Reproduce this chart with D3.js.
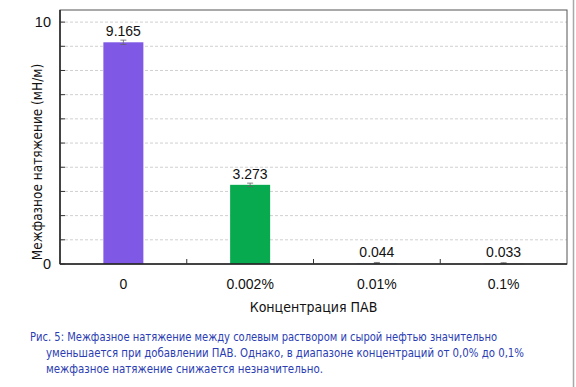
<!DOCTYPE html>
<html>
<head>
<meta charset="utf-8">
<style>
body { margin: 0; background: #fff; }
svg { display: block; font-family: "Liberation Sans", Arial, sans-serif; }
.cap { font-family: "DejaVu Sans Condensed", "DejaVu Sans", sans-serif; fill: #2b3db3; font-size: 12px; }
.grid line { stroke: #d0d0d0; stroke-dasharray: 3,2; }
</style>
<script src="https://d3js.org/d3.v7.min.js"></script>
</head>
<body>
<script>
// data
var categories = ["0", "0.002%", "0.01%", "0.1%"];
var values = [9.165, 3.273, 0.044, 0.033];
var errors = [0.09, 0.07, 0.02, 0.02];
var colors = ["#7f59e6", "#07aa4e", "#c7d7ee", "#d9dde3"];
var yTicks = d3.range(0, 11);
var yLabels = [0, 10];
var caption = [
    "Рис. 5: Межфазное натяжение между солевым раствором и сырой нефтью значительно",
    "уменьшается при добавлении ПАВ. Однако, в диапазоне концентраций от 0,0% до 0,1%",
    "межфазное натяжение снижается незначительно."
];

var W = 576, H = 387;
var margin = {top: 10, right: 9, bottom: 123, left: 60};
var pw = W - margin.left - margin.right;
var ph = H - margin.top - margin.bottom;

var svg = d3.select("body").append("svg")
    .attr("width", W).attr("height", H);

// outer frame line on the right
svg.append("line").attr("x1", 573.5).attr("x2", 573.5).attr("y1", 0).attr("y2", H)
    .attr("stroke", "#a8a8a8").attr("stroke-width", 1.5);

var g = svg.append("g").attr("transform", "translate(" + margin.left + "," + margin.top + ")");

var x = d3.scaleBand().domain(categories).range([0, pw]);
var y = d3.scaleLinear().domain([0, 10.5]).range([ph, 0]);

// grid
g.append("g").attr("class", "grid")
    .selectAll("line").data(yTicks.slice(1)).enter().append("line")
    .attr("x1", 0).attr("x2", pw)
    .attr("y1", function(d) { return y(d); })
    .attr("y2", function(d) { return y(d); });

// bars
var bw = 40;
g.selectAll("rect.bar").data(values).enter().append("rect")
    .attr("class", "bar")
    .attr("x", function(d, i) { return x(categories[i]) + x.bandwidth() / 2 - bw / 2; })
    .attr("width", bw)
    .attr("y", function(d) { return y(d); })
    .attr("height", function(d) { return Math.max(1.5, ph - y(d)); })
    .attr("fill", function(d, i) { return colors[i]; });

// error bars
var eb = g.selectAll("g.err").data(values).enter().append("g")
    .attr("class", "err")
    .attr("transform", function(d, i) { return "translate(" + (x(categories[i]) + x.bandwidth() / 2) + ",0)"; })
    .attr("stroke", "#666").attr("stroke-width", 0.8);
eb.append("line").attr("x1", 0).attr("x2", 0)
    .attr("y1", function(d, i) { return y(d + errors[i]); })
    .attr("y2", function(d, i) { return y(d - errors[i]); });
eb.append("line").attr("x1", -3).attr("x2", 3)
    .attr("y1", function(d, i) { return y(d + errors[i]); })
    .attr("y2", function(d, i) { return y(d + errors[i]); });
eb.append("line").attr("x1", -3).attr("x2", 3)
    .attr("y1", function(d, i) { return y(Math.max(0, d - errors[i])); })
    .attr("y2", function(d, i) { return y(Math.max(0, d - errors[i])); });

// value labels
g.selectAll("text.val").data(values).enter().append("text")
    .attr("class", "val")
    .attr("x", function(d, i) { return x(categories[i]) + x.bandwidth() / 2; })
    .attr("y", function(d) { return y(d) - 6; })
    .attr("text-anchor", "middle")
    .attr("font-size", "14px").attr("fill", "#111")
    .text(function(d) { return d3.format(".3f")(d); });

// frame
g.append("rect").attr("x", 0).attr("y", 0).attr("width", pw).attr("height", ph)
    .attr("fill", "none").attr("stroke", "#555").attr("stroke-width", 1);
g.append("line").attr("x1", 0).attr("x2", pw).attr("y1", ph).attr("y2", ph)
    .attr("stroke", "#222").attr("stroke-width", 1.5);
g.append("line").attr("x1", 0).attr("x2", 0).attr("y1", 0).attr("y2", ph)
    .attr("stroke", "#222").attr("stroke-width", 1.5);

// y ticks (inside)
g.selectAll("line.yt").data(yTicks).enter().append("line")
    .attr("x1", 0).attr("x2", 5)
    .attr("y1", function(d) { return y(d); })
    .attr("y2", function(d) { return y(d); })
    .attr("stroke", "#333");
g.selectAll("text.yl").data(yLabels).enter().append("text")
    .attr("x", -9).attr("y", function(d) { return y(d); })
    .attr("dy", "0.35em").attr("text-anchor", "end")
    .attr("font-size", "14.5px").attr("fill", "#111")
    .text(function(d) { return d; });

// x separator ticks (inside)
g.selectAll("line.xt").data(categories.slice(1)).enter().append("line")
    .attr("x1", function(d) { return x(d); })
    .attr("x2", function(d) { return x(d); })
    .attr("y1", ph).attr("y2", ph - 5)
    .attr("stroke", "#333");
g.selectAll("text.xl").data(categories).enter().append("text")
    .attr("x", function(d) { return x(d) + x.bandwidth() / 2; })
    .attr("y", ph + 25)
    .attr("text-anchor", "middle")
    .attr("font-size", "14px").attr("fill", "#111")
    .text(function(d) { return d; });

// axis titles
svg.append("text")
    .attr("transform", "translate(42,162) rotate(-90)")
    .attr("text-anchor", "middle")
    .attr("font-family", "'DejaVu Sans Condensed', sans-serif")
    .attr("font-size", "13.5px").attr("fill", "#111")
    .text("Межфазное натяжение (мН/м)");
svg.append("text")
    .attr("x", margin.left + pw / 2).attr("y", 312)
    .attr("text-anchor", "middle")
    .attr("font-family", "'DejaVu Sans Condensed', sans-serif")
    .attr("font-size", "14px").attr("fill", "#111")
    .text("Концентрация ПАВ");

// caption
var capX = [30, 46, 46];
var capLen = [467, 478, 277];
svg.selectAll("text.cap").data(caption).enter().append("text")
    .attr("class", "cap")
    .attr("x", function(d, i) { return capX[i]; })
    .attr("y", function(d, i) { return 341 + i * 16; })
    .attr("textLength", function(d, i) { return capLen[i]; })
    .attr("lengthAdjust", "spacingAndGlyphs")
    .text(function(d) { return d; });
</script>
</body>
</html>
